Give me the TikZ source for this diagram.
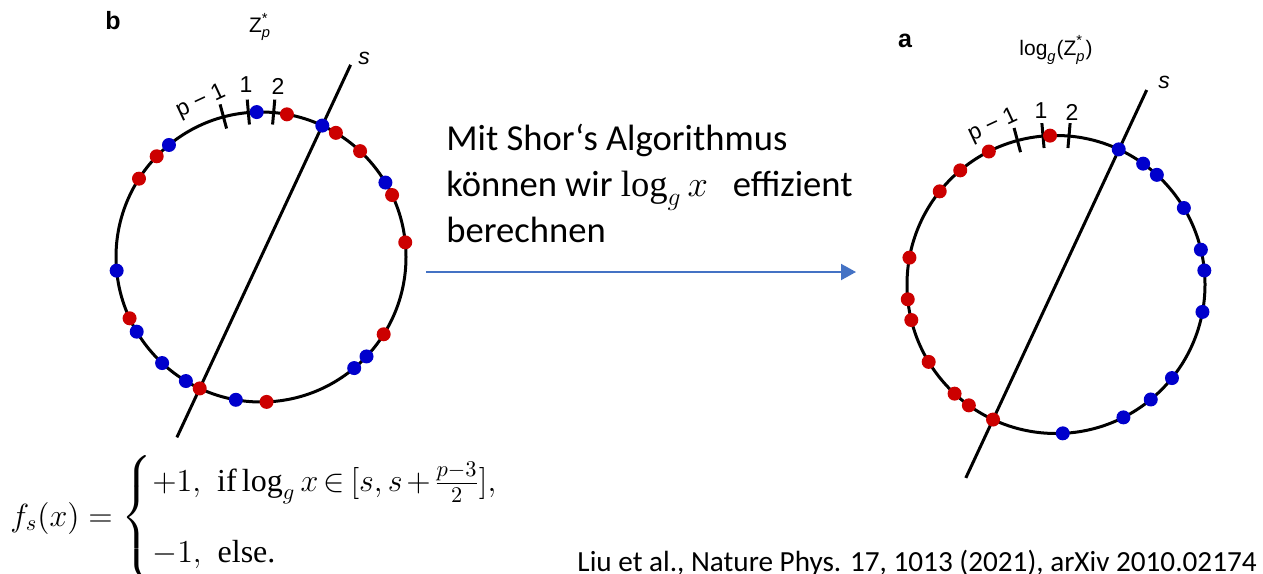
\RequirePackage{fix-cm}
\documentclass[tikz,border=0pt]{standalone}
\usepackage{amsmath}
\usepackage{fontspec}
\setmainfont{Carlito}
\newfontfamily\arialf{Liberation Sans}
\newfontfamily\tnrf{Liberation Serif}
\usetikzlibrary{arrows.meta}
\definecolor{dotred}{RGB}{204,0,0}
\definecolor{dotblue}{RGB}{0,0,204}
\definecolor{arrowblue}{RGB}{68,114,196}
\newcommand\serlog{\mathop{\text{\tnrf log}}\nolimits}
\begin{document}
\begin{tikzpicture}[x=0.5pt,y=-0.5pt,
  ring/.style={line width=1.5pt},
  sline/.style={line width=1.5pt},
  tickmark/.style={line width=1.5pt},
  reddot/.style={fill=dotred},
  bluedot/.style={fill=dotblue},
  lbl/.style={font=\arialf\fontsize{11.5}{13}\selectfont, inner sep=0pt},
  slbl/.style={font=\arialf\itshape\fontsize{11.5}{13}\selectfont, inner sep=0pt},
  ttl/.style={font=\arialf\fontsize{10.5}{12}\selectfont, inner sep=0pt},
  panel/.style={font=\arialf\bfseries\fontsize{12.5}{14}\selectfont, inner sep=0pt},
  body/.style={font=\fontsize{18.3}{23}\selectfont, inner sep=0pt, anchor=base west},
  cite/.style={font=\fontsize{14.6}{17}\selectfont, inner sep=0pt, anchor=base east},
  flow/.style={draw=arrowblue, line width=1pt, -{Triangle[length=7.5pt,width=8pt]}}
]
\useasboundingbox (0,0) rectangle (1263,573);

% ---------- left circle (b) ----------
\coordinate (cL) at (261,257);
\draw[ring] (cL) circle[radius=145];
\coordinate (sLtop) at ([shift={(-65:212)}]cL);
\coordinate (sLbot) at ([shift={(-245:199)}]cL);
\draw[sline] (sLbot) -- (sLtop);
\foreach \a in {105,95,85}
  \draw[tickmark, shift={(cL)}] (-\a:133) -- (-\a:158);
\foreach \a in {79.7,58.9,46.9,25.3,5.8,327.8,272.2,245,205,147.3,136}
  \fill[reddot, shift={(cL)}] (-\a:145) circle[radius=7];
\foreach \a in {91.7,65,30.9,310,316.7,260,238.8,227,211,185.4,129.4}
  \fill[bluedot, shift={(cL)}] (-\a:145) circle[radius=7];
\node[lbl, rotate=25] (pmL) at (201,102) {p − 1};
\node[lbl] (oneL) at (246,85) {1};
\node[lbl] (twoL) at (278,86) {2};
\node[slbl] (sL) at (364,58) {s};
\node[ttl] (zL) at (260,27) {$\text{Z}^{\text{*}}_{\textit{p}}$};
\node[panel] (bL) at (113,21) {b};

% ---------- right circle (a) ----------
\coordinate (cR) at (1056,284.5);
\draw[ring] (cR) circle[radius=149];
\coordinate (sRtop) at ([shift={(-65:214.6)}]cR);
\coordinate (sRbot) at ([shift={(-245:213.4)}]cR);
\draw[sline] (sRbot) -- (sRtop);
\foreach \a in {105,95,85}
  \draw[tickmark, shift={(cR)}] (-\a:137) -- (-\a:162);
\foreach \a in {92.3,116.8,130,141.3,169.6,185.7,193.8,211.3,227.1,234.2,245}
  \fill[reddot, shift={(cR)}] (-\a:149) circle[radius=7];
\foreach \a in {65.1,54.2,47.4,30.9,13.5,5.4,349.4,321.1,309.5,296.9,272.6}
  \fill[bluedot, shift={(cR)}] (-\a:149) circle[radius=7];
\node[lbl, rotate=25] (pmR) at (993,126) {p − 1};
\node[lbl] (oneR) at (1041,111) {1};
\node[lbl] (twoR) at (1072,112) {2};
\node[slbl] (sR) at (1164,82) {s};
\node[ttl] (zR) at (1056,50) {$\text{log}_{\textit{g}}\text{(Z}^{\text{*}}_{\textit{p}}\text{)}$};
\node[panel] (aR) at (905,41) {a};

% ---------- middle text and arrow ----------
\node[body] (t1) at (446,150) {Mit Shor‘s Algorithmus};
\node[body] (t2) at (446,196) {können wir $\serlog_g x$\ \ \ effizient};
\node[body] (t3) at (446,242) {berechnen};
\coordinate (arrS) at (426,272);
\coordinate (arrE) at (856,272);
\draw[flow] (arrS) -- (arrE);

% ---------- formula ----------
\node[font=\tnrf\fontsize{16}{19}\selectfont, inner sep=0pt, anchor=west] (form) at (10,518)
  {$f_s(x) = \begin{cases} +1,\,\,\text{if}\serlog_g x \mathrel{\mkern-2mu\in\mkern-2mu} [s, s\mathbin{\mkern-2mu+\mkern-2mu}\frac{p-3}{2}],\\[13pt] -1,\,\,\text{else.}\end{cases}$};

% ---------- citation ----------
\node[cite] (ref) at (1257,571) {Liu et al., Nature Phys. 17, 1013 (2021), arXiv 2010.02174};
\end{tikzpicture}
\end{document}
